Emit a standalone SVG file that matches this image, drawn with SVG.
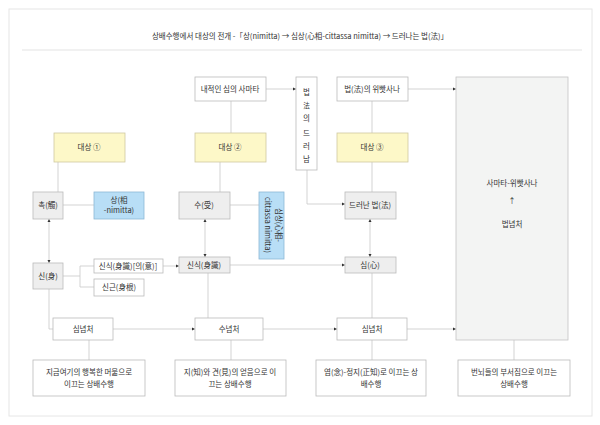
<svg xmlns="http://www.w3.org/2000/svg" width="600" height="425" viewBox="0 0 600 425">
<defs>
<marker id="a" viewBox="0 0 6 6" refX="6" refY="3" markerWidth="4" markerHeight="4" orient="auto-start-reverse"><path d="M0,0L6,3L0,6z" fill="#333"/></marker>
<style>
text{font-family:"Noto Sans CJK KR","Noto Sans",sans-serif;font-size:7.5px;fill:#333;text-anchor:middle}
.w{fill:#fff;stroke:#bbb;stroke-width:0.8}
.g{fill:#eeeeee;stroke:#bbb;stroke-width:0.8}
.y{fill:#fdf8c8;stroke:#cfc9a0;stroke-width:0.8}
.b{fill:#b8def6;stroke:#8db8d6;stroke-width:0.8}
.c path{fill:none;stroke:#c8c8c8;stroke-width:0.8}
.m{marker-end:url(#a)}
.mm{marker-end:url(#a);marker-start:url(#a)}
</style>
</defs>
<rect x="0" y="0" width="600" height="425" fill="#fff"/>
<rect x="9" y="9" width="583" height="407" fill="none" stroke="#e6e6e6"/>
<text x="300" y="39" style="font-size:7.5px">상배수행에서 대상의 전개 -「상(nimitta) → 심상(心相-cittassa nimitta) → 드러나는 법(法)」</text>
<line x1="22" y1="50" x2="582" y2="50" stroke="#e3e3e3"/>
<g class="c">
<path class="m" d="M266,89H296"/>
<path class="m" d="M408,89H456"/>
<path d="M231,101V133"/>
<path d="M372,101V133"/>
<path d="M58,162V192"/>
<path d="M220,162V192"/>
<path class="m" d="M307,170V204H345"/>
<path d="M372,162V192"/>
<path d="M63,205H94"/>
<path d="M230,205H259"/>
<path class="mm" d="M49,219V263"/>
<path class="mm" d="M205,219V257"/>
<path class="mm" d="M370,219V257"/>
<path d="M63,276H80M80,266V287M80,266H94M80,287H94"/>
<path class="m" d="M163,266H179"/>
<path class="m" d="M230,265H345"/>
<path d="M49,289V329H53"/>
<path d="M208,273V318"/>
<path d="M372,273V318"/>
<path class="m" d="M113,329H195"/>
<path class="m" d="M263,329H337"/>
<path class="m" d="M407,329H456"/>
<path d="M89,340V360M231,340V360M372,340V360M514,340V360"/>
</g>
<g id="n1"><rect class="w" x="195" y="77" width="71" height="24"/><text x="230" y="92">내적인 심의 사마타</text></g>
<g id="n2"><rect class="w" x="296" y="77" width="21" height="93"/>
<text x="306.5" y="95">법</text><text x="306.5" y="108" style="font-size:6.5px">法</text><text x="306.5" y="121">의</text><text x="306.5" y="136">드</text><text x="306.5" y="149">러</text><text x="306.5" y="162">남</text></g>
<g id="n3"><rect class="w" x="337" y="77" width="71" height="24"/><text x="372" y="92">법(法)의 위빳사나</text></g>
<g id="n4"><rect x="456" y="77" width="112" height="263" fill="#f3f4f3" stroke="#c4c4c4" stroke-width="0.8"/>
<text x="512" y="186">사마타-위빳사나</text><text x="512" y="204">↑</text><text x="512" y="227">법념처</text></g>
<g id="n5"><rect class="y" x="54" y="133" width="71" height="29"/><text x="89" y="150">대상 ①</text></g>
<g id="n6"><rect class="y" x="195" y="133" width="71" height="29"/><text x="230" y="150">대상 ②</text></g>
<g id="n7"><rect class="y" x="337" y="133" width="71" height="29"/><text x="372" y="150">대상 ③</text></g>
<g id="n8"><rect class="g" x="33" y="192" width="30" height="27"/><text x="48" y="208">촉(觸)</text></g>
<g id="n9"><rect class="b" x="94" y="192" width="50" height="27"/><text x="119" y="203">상(相</text><text x="119" y="213">-nimitta)</text></g>
<g id="n10"><rect class="g" x="179" y="192" width="51" height="27"/><text x="204" y="208">수(受)</text></g>
<g id="n11"><rect class="b" x="259" y="192" width="25" height="67"/>
<text transform="translate(276,225) rotate(90)">심상(心相-</text><text transform="translate(265,225) rotate(90)">cittassa nimitta)</text></g>
<g id="n12"><rect class="g" x="345" y="192" width="51" height="27"/><text x="370" y="208">드러난 법(法)</text></g>
<g id="n13"><rect class="g" x="33" y="263" width="30" height="26"/><text x="48" y="279">신(身)</text></g>
<g id="n14"><rect class="w" x="94" y="259" width="69" height="14"/><text x="128" y="269">신식(身識)[의(意)]</text></g>
<g id="n15"><rect class="w" x="94" y="279" width="50" height="17"/><text x="119" y="290">신근(身根)</text></g>
<g id="n16"><rect class="g" x="179" y="257" width="51" height="16"/><text x="204" y="268">신식(身識)</text></g>
<g id="n17"><rect class="g" x="345" y="257" width="51" height="16"/><text x="370" y="268">심(心)</text></g>
<g id="n18"><rect class="w" x="53" y="318" width="60" height="22"/><text x="83" y="332">심념처</text></g>
<g id="n19"><rect class="w" x="195" y="318" width="68" height="22"/><text x="229" y="332">수념처</text></g>
<g id="n20"><rect class="w" x="337" y="318" width="70" height="22"/><text x="372" y="332">심념처</text></g>
<g id="n21"><rect class="w" x="33" y="360" width="112" height="36"/><text x="89" y="375">지금여기의 행복한 머묾으로</text><text x="89" y="387">이끄는 상배수행</text></g>
<g id="n22"><rect class="w" x="175" y="360" width="111" height="36"/><text x="230" y="375">지(知)와 견(見)의 얻음으로 이</text><text x="230" y="387">끄는 상배수행</text></g>
<g id="n23"><rect class="w" x="316" y="360" width="110" height="36"/><text x="371" y="375">염(念)-정지(正知)로 이끄는 상</text><text x="371" y="387">배수행</text></g>
<g id="n24"><rect class="w" x="458" y="360" width="112" height="36"/><text x="514" y="375">번뇌들의 부서짐으로 이끄는</text><text x="514" y="387">상배수행</text></g>
</svg>
